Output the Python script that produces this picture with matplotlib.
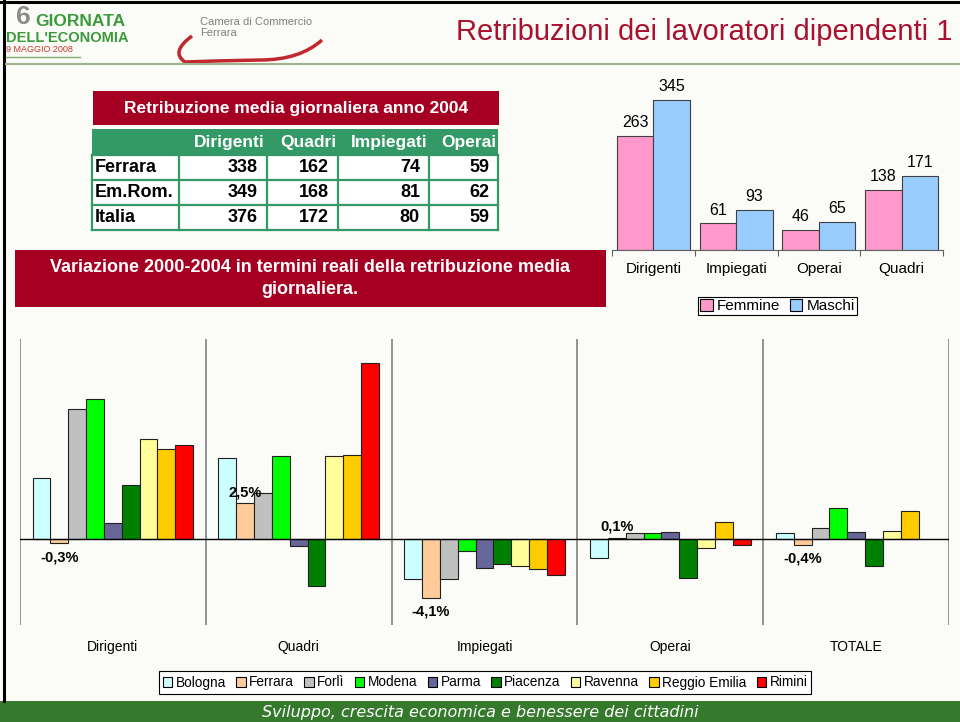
import numpy as np
import matplotlib
matplotlib.use('Agg')
import matplotlib.pyplot as plt
from matplotlib.patches import Rectangle, Patch, PathPatch
from matplotlib.path import Path

# Slide size in pixels (figure is drawn at 100 dpi)
W, H = 960, 722
NARROW = ['Liberation Sans Narrow', 'Liberation Sans', 'DejaVu Sans']
ARIAL = ['Liberation Sans', 'DejaVu Sans']

# Table: retribuzione media giornaliera 2004
table_cols = ['Dirigenti', 'Quadri', 'Impiegati', 'Operai']
table_rows = ['Ferrara', 'Em.Rom.', 'Italia']
table_ferrara = [338, 162, 74, 59]
table_emrom = [349, 168, 81, 62]
table_italia = [376, 172, 80, 59]

# Top-right chart: Femmine / Maschi
gender_cats = ['Dirigenti', 'Impiegati', 'Operai', 'Quadri']
femmine = [263, 61, 46, 138]
maschi = [345, 93, 65, 171]

# Bottom chart: variazione 2000-2004 (%)
var_cats = ['Dirigenti', 'Quadri', 'Impiegati', 'Operai', 'TOTALE']
provinces = ['Bologna', 'Ferrara', 'Forlì', 'Modena', 'Parma', 'Piacenza',
             'Ravenna', 'Reggio Emilia', 'Rimini']
bologna = [4.3, 5.7, -2.8, -1.3, 0.4]
ferrara = [-0.3, 2.5, -4.1, 0.1, -0.4]
forli = [9.1, 3.2, -2.8, 0.4, 0.8]
modena = [9.8, 5.8, -0.8, 0.4, 2.2]
parma = [1.1, -0.5, -2.0, 0.5, 0.5]
piacenza = [3.8, -3.3, -1.7, -2.7, -1.9]
ravenna = [7.0, 5.8, -1.9, -0.6, 0.6]
reggio = [6.3, 5.9, -2.1, 1.2, 2.0]
rimini = [6.6, 12.3, -2.5, -0.4, np.nan]
prov_colors = ['#ccffff', '#ffcc99', '#c0c0c0', '#00ff00', '#666699',
               '#008000', '#ffff99', '#ffcc00', '#ff0000']


def box(x0, y0, x1, y1):
    """pixel box (top-left origin) -> figure fraction rect"""
    return [x0 / W, 1 - y1 / H, (x1 - x0) / W, (y1 - y0) / H]


fig = plt.figure(figsize=(9.6, 7.22), dpi=100, facecolor='#fbfbf7')

# background layer in pixel coordinates
bg = fig.add_axes([0, 0, 1, 1])
bg.set_xlim(0, W)
bg.set_ylim(H, 0)
bg.axis('off')

# frame and header line
bg.plot([0, W], [1.5, 1.5], color='black', lw=2.2)
bg.plot([4, 4], [0, 701], color='black', lw=2.2)
bg.plot([6, W], [64, 64], color='#9fb38f', lw=1.5)

# logo
bg.text(23, 17, '6', fontsize=19, fontweight='bold', color='#8c8c8c',
        ha='center', va='center', family=ARIAL)
bg.text(35, 22, 'GIORNATA', fontsize=12.5, fontweight='bold', color='#3c9a3c',
        va='center', family=ARIAL)
bg.text(6, 38, "DELL'ECONOMIA", fontsize=10.5, fontweight='bold', color='#3c9a3c',
        va='center', family=ARIAL)
bg.text(6, 50, '9 MAGGIO 2008', fontsize=6.5, color='#c0392b', va='center', family=ARIAL)
bg.plot([6, 80], [57, 57], color='#7fae6f', lw=1)
bg.text(200, 22, 'Camera di Commercio', fontsize=8, color='#808080',
        va='center', family=NARROW)
bg.text(200, 33, 'Ferrara', fontsize=8, color='#808080', va='center', family=NARROW)
swoosh = Path([(192, 36), (170, 52), (185, 62), (215, 61), (260, 60), (300, 60),
               (322, 40)],
              [Path.MOVETO, Path.CURVE3, Path.CURVE3, Path.LINETO, Path.LINETO,
               Path.CURVE3, Path.CURVE3])
bg.add_patch(PathPatch(swoosh, fc='none', ec='#c0282d', lw=2.5))

# title
bg.text(952, 32, 'Retribuzioni dei lavoratori dipendenti 1', ha='right', va='center',
        fontsize=21, color='#a8102e', family=NARROW)

# red title box for the table
red = '#a50021'
bg.add_patch(Rectangle((93, 91), 406, 34, fc=red, ec='none'))
bg.text(296, 108.5, 'Retribuzione media giornaliera anno 2004', ha='center', va='center',
        color='white', fontsize=12.5, fontweight='bold', family=ARIAL)

# table
green = '#339966'
col_x = [92, 179, 267, 338, 429, 498]
row_y = [129, 155, 180, 205, 230]
bg.add_patch(Rectangle((col_x[0], row_y[0]), col_x[-1] - col_x[0], row_y[1] - row_y[0],
                       fc=green, ec='none'))
bg.add_patch(Rectangle((col_x[0], row_y[1]), col_x[-1] - col_x[0], row_y[-1] - row_y[1],
                       fc='white', ec='none'))
for y in row_y[1:]:
    bg.plot([col_x[0], col_x[-1]], [y, y], color=green, lw=1.6)
for x in col_x:
    bg.plot([x, x], [row_y[1], row_y[-1]], color=green, lw=1.6)
for j, c in enumerate(table_cols):
    bg.text(col_x[j + 2] - 2, 142, c, ha='right', va='center', color='white',
            fontsize=12.5, fontweight='bold', family=ARIAL)
for i, (r, vals) in enumerate(zip(table_rows, [table_ferrara, table_emrom, table_italia])):
    yc = (row_y[i + 1] + row_y[i + 2]) / 2
    bg.text(95, yc, r, ha='left', va='center', fontsize=13, fontweight='bold', family=ARIAL)
    for j, v in enumerate(vals):
        bg.text(col_x[j + 2] - 9, yc, str(v), ha='right', va='center', fontsize=13,
                fontweight='bold', family=ARIAL)

# red title box for the bottom chart
bg.add_patch(Rectangle((15, 250), 591, 57, fc=red, ec='none'))
bg.text(310, 268, 'Variazione 2000-2004 in termini reali della retribuzione media',
        ha='center', va='center', color='white', fontsize=13, fontweight='bold', family=ARIAL)
bg.text(310, 290, 'giornaliera.', ha='center', va='center', color='white', fontsize=13,
        fontweight='bold', family=ARIAL)

# footer
bg.add_patch(Rectangle((0, 701), W, 21, fc='#357a2c', ec='none'))
bg.text(480, 712, 'Sviluppo, crescita economica e benessere dei cittadini', ha='center',
        va='center', color='white', fontsize=11.5, style='italic', family=['DejaVu Sans'])

# ---- top-right chart ----
ax1 = fig.add_axes(box(612, 76, 943, 250))
ax1.set_facecolor('none')
gx = np.arange(len(gender_cats))
bw = 0.44
b1 = ax1.bar(gx + 0.06, femmine, bw, align='edge', color='#ff99cc', edgecolor='#404040',
             lw=0.8, label='Femmine')
b2 = ax1.bar(gx + 0.5, maschi, bw, align='edge', color='#99ccff', edgecolor='#404040',
             lw=0.8, label='Maschi')
for bars in (b1, b2):
    for rect in bars:
        ax1.annotate(f'{rect.get_height():.0f}',
                     (rect.get_x() + rect.get_width() / 2, rect.get_height()),
                     xytext=(0, 4), textcoords='offset points', ha='center', va='bottom',
                     fontsize=11.5, family=ARIAL)
ax1.set_xlim(0, len(gender_cats))
ax1.set_ylim(0, 400)
for s in ('top', 'left', 'right'):
    ax1.spines[s].set_visible(False)
ax1.spines['bottom'].set_color('#606060')
ax1.set_yticks([])
ax1.set_xticks(np.arange(len(gender_cats) + 1))
ax1.set_xticklabels([])
ax1.tick_params(axis='x', which='major', length=4, color='#606060')
ax1.set_xticks(gx + 0.5, minor=True)
ax1.set_xticklabels(gender_cats, minor=True, fontsize=11, family=ARIAL)
ax1.tick_params(axis='x', which='minor', length=0, pad=9)

leg1 = fig.legend(handles=[Patch(fc='#ff99cc', ec='black', lw=0.8, label='Femmine'),
                           Patch(fc='#99ccff', ec='black', lw=0.8, label='Maschi')],
                  loc='center', bbox_to_anchor=(777.5 / W, 1 - 306 / H), ncol=2,
                  fancybox=False, edgecolor='black', framealpha=1,
                  prop={'family': ARIAL, 'size': 11}, handlelength=0.8, handleheight=0.8,
                  handletextpad=0.3, columnspacing=0.6, borderpad=0.15, borderaxespad=0)
leg1.get_frame().set_linewidth(0.8)
leg1.get_frame().set_facecolor('white')

# ---- bottom chart ----
ax2 = fig.add_axes(box(20, 339, 949, 625))
ax2.set_facecolor('none')
series = [bologna, ferrara, forli, modena, parma, piacenza, ravenna, reggio, rimini]
vx = np.arange(len(var_cats))
w = 0.096
start = (1 - len(series) * w) / 2
for k, (name, vals, col) in enumerate(zip(provinces, series, prov_colors)):
    ax2.bar(vx + start + k * w, vals, w, align='edge', color=col, edgecolor='#202020',
            lw=0.8, label=name, zorder=3)
for i, v in enumerate(ferrara):
    xc = i + start + 1.5 * w
    if v >= 0:
        ax2.annotate(f'{v:.1f}%'.replace('.', ','), (xc, v), xytext=(0, 3),
                     textcoords='offset points', ha='center', va='bottom', fontsize=10.5,
                     fontweight='bold', family=ARIAL, zorder=5)
    else:
        ax2.annotate(f'{v:.1f}%'.replace('.', ','), (xc, v), xytext=(0, -5),
                     textcoords='offset points', ha='center', va='top', fontsize=10.5,
                     fontweight='bold', family=ARIAL, zorder=5)
ax2.vlines(np.arange(len(var_cats) + 1), -6, 14, color='#808080', lw=1.2, zorder=1)
ax2.axhline(0, color='black', lw=1, zorder=4)
ax2.set_xlim(0, len(var_cats))
ax2.set_ylim(-6, 14)
for s in ax2.spines.values():
    s.set_visible(False)
ax2.set_yticks([])
ax2.set_xticks([])
ax2.set_xticks(vx + 0.5, minor=True)
ax2.set_xticklabels(var_cats, minor=True, fontsize=10, family=NARROW)
ax2.tick_params(axis='x', which='minor', length=0, pad=11)

leg2 = fig.legend(handles=[Patch(fc=c, ec='black', lw=0.8, label=p)
                           for p, c in zip(provinces, prov_colors)],
                  loc='center', bbox_to_anchor=(485 / W, 1 - 682.5 / H), ncol=9,
                  fancybox=False, edgecolor='black', framealpha=1,
                  prop={'family': NARROW, 'size': 9.8}, handlelength=0.7, handleheight=0.7,
                  handletextpad=0.25, columnspacing=0.75, borderpad=0.3, borderaxespad=0)
leg2.get_frame().set_linewidth(0.8)
leg2.get_frame().set_facecolor('white')

fig.savefig('out.png', dpi=100, facecolor=fig.get_facecolor())
